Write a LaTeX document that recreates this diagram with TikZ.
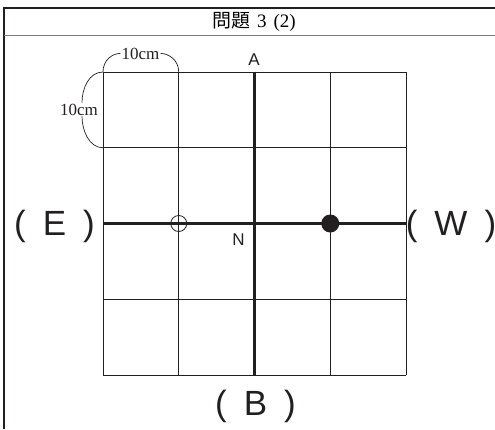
\documentclass[tikz,border=0pt]{standalone}
\usepackage{fontspec}
\setmainfont{Liberation Serif}
\setsansfont{Liberation Sans}
\newfontfamily\jpfont{Noto Sans CJK JP}
\usepackage{xcolor}
\usetikzlibrary{positioning,calc}
\definecolor{ink}{HTML}{231F20}
\definecolor{rule}{HTML}{7A7A7A}
\newcommand{\dirtext}[1]{(\hspace{17pt}#1\hspace{17pt})}

\begin{document}
\begin{tikzpicture}[
  x=1pt,y=-1pt,
  gridline/.style={draw=ink,line width=0.8pt},
  axisline/.style={draw=ink,line width=2.2pt},
  dirlabel/.style={font=\sffamily\fontsize{35}{35}\selectfont,inner sep=0pt,anchor=base,text=ink},
  pointlabel/.style={font=\sffamily\fontsize{17}{17}\selectfont,inner sep=0pt,anchor=base,text=ink},
  sizelabel/.style={font=\rmfamily\fontsize{17}{17}\selectfont,inner sep=1pt,anchor=base,text=ink},
  bracket/.style={draw=ink,line width=0.7pt}
]
\useasboundingbox (0,0) rectangle (495,429);
% frame and header
\draw[ink,line width=1.6pt] (495,8) -- (4,8) -- (4,429);
\draw[rule,line width=1pt] (4,35) -- (495,35);
\node[font=\fontsize{19}{19}\selectfont,anchor=base,inner sep=0pt] (title) at (254,27) {{\jpfont 問題}\hspace{7pt}3\hspace{7pt}(2)};

% grid
\coordinate (g00) at (103,72);
\coordinate (g10) at (178.75,72);
\coordinate (g01) at (103,147.75);
\foreach \i in {0,...,4} {
  \draw[gridline] (103+75.75*\i,72) -- (103+75.75*\i,375);
  \draw[gridline] (103,72+75.75*\i) -- (406,72+75.75*\i);
}
\draw[axisline] (103,223.5) -- (406,223.5);
\draw[axisline] (254.5,72) -- (254.5,375);

% marks
\node[circle,draw=ink,line width=0.8pt,minimum size=16pt,inner sep=0pt] (hollow) at (178.75,223.5) {};
\node[circle,fill=ink,minimum size=18pt,inner sep=0pt] (solid) at (330.25,223.5) {};

% labels
\node[pointlabel] (north) at (254,65) {A};
\node[pointlabel] (centre) at (238.5,245) {N};
\node[dirlabel] (east) at (54.5,235) {\dirtext{E}};
\node[dirlabel] (west) at (451,235) {\dirtext{W}};
\node[dirlabel] (south) at (255.5,415) {\dirtext{B}};

% size brackets
\node[sizelabel] (tsize) at (140.5,59) {10cm};
\node[sizelabel] (lsize) at (79,115) {10cm};
\draw[bracket] (g00) .. controls +(0,-12) and +(-8,0) .. (tsize.west);
\draw[bracket] (tsize.east) .. controls +(8,0) and +(0,-12) .. (g10);
\draw[bracket] (g00) .. controls +(-14,0) and +(0,-14) .. ([xshift=3pt]lsize.north);
\draw[bracket] ([xshift=3pt]lsize.south) .. controls +(0,14) and +(-14,0) .. (g01);
\end{tikzpicture}
\end{document}
